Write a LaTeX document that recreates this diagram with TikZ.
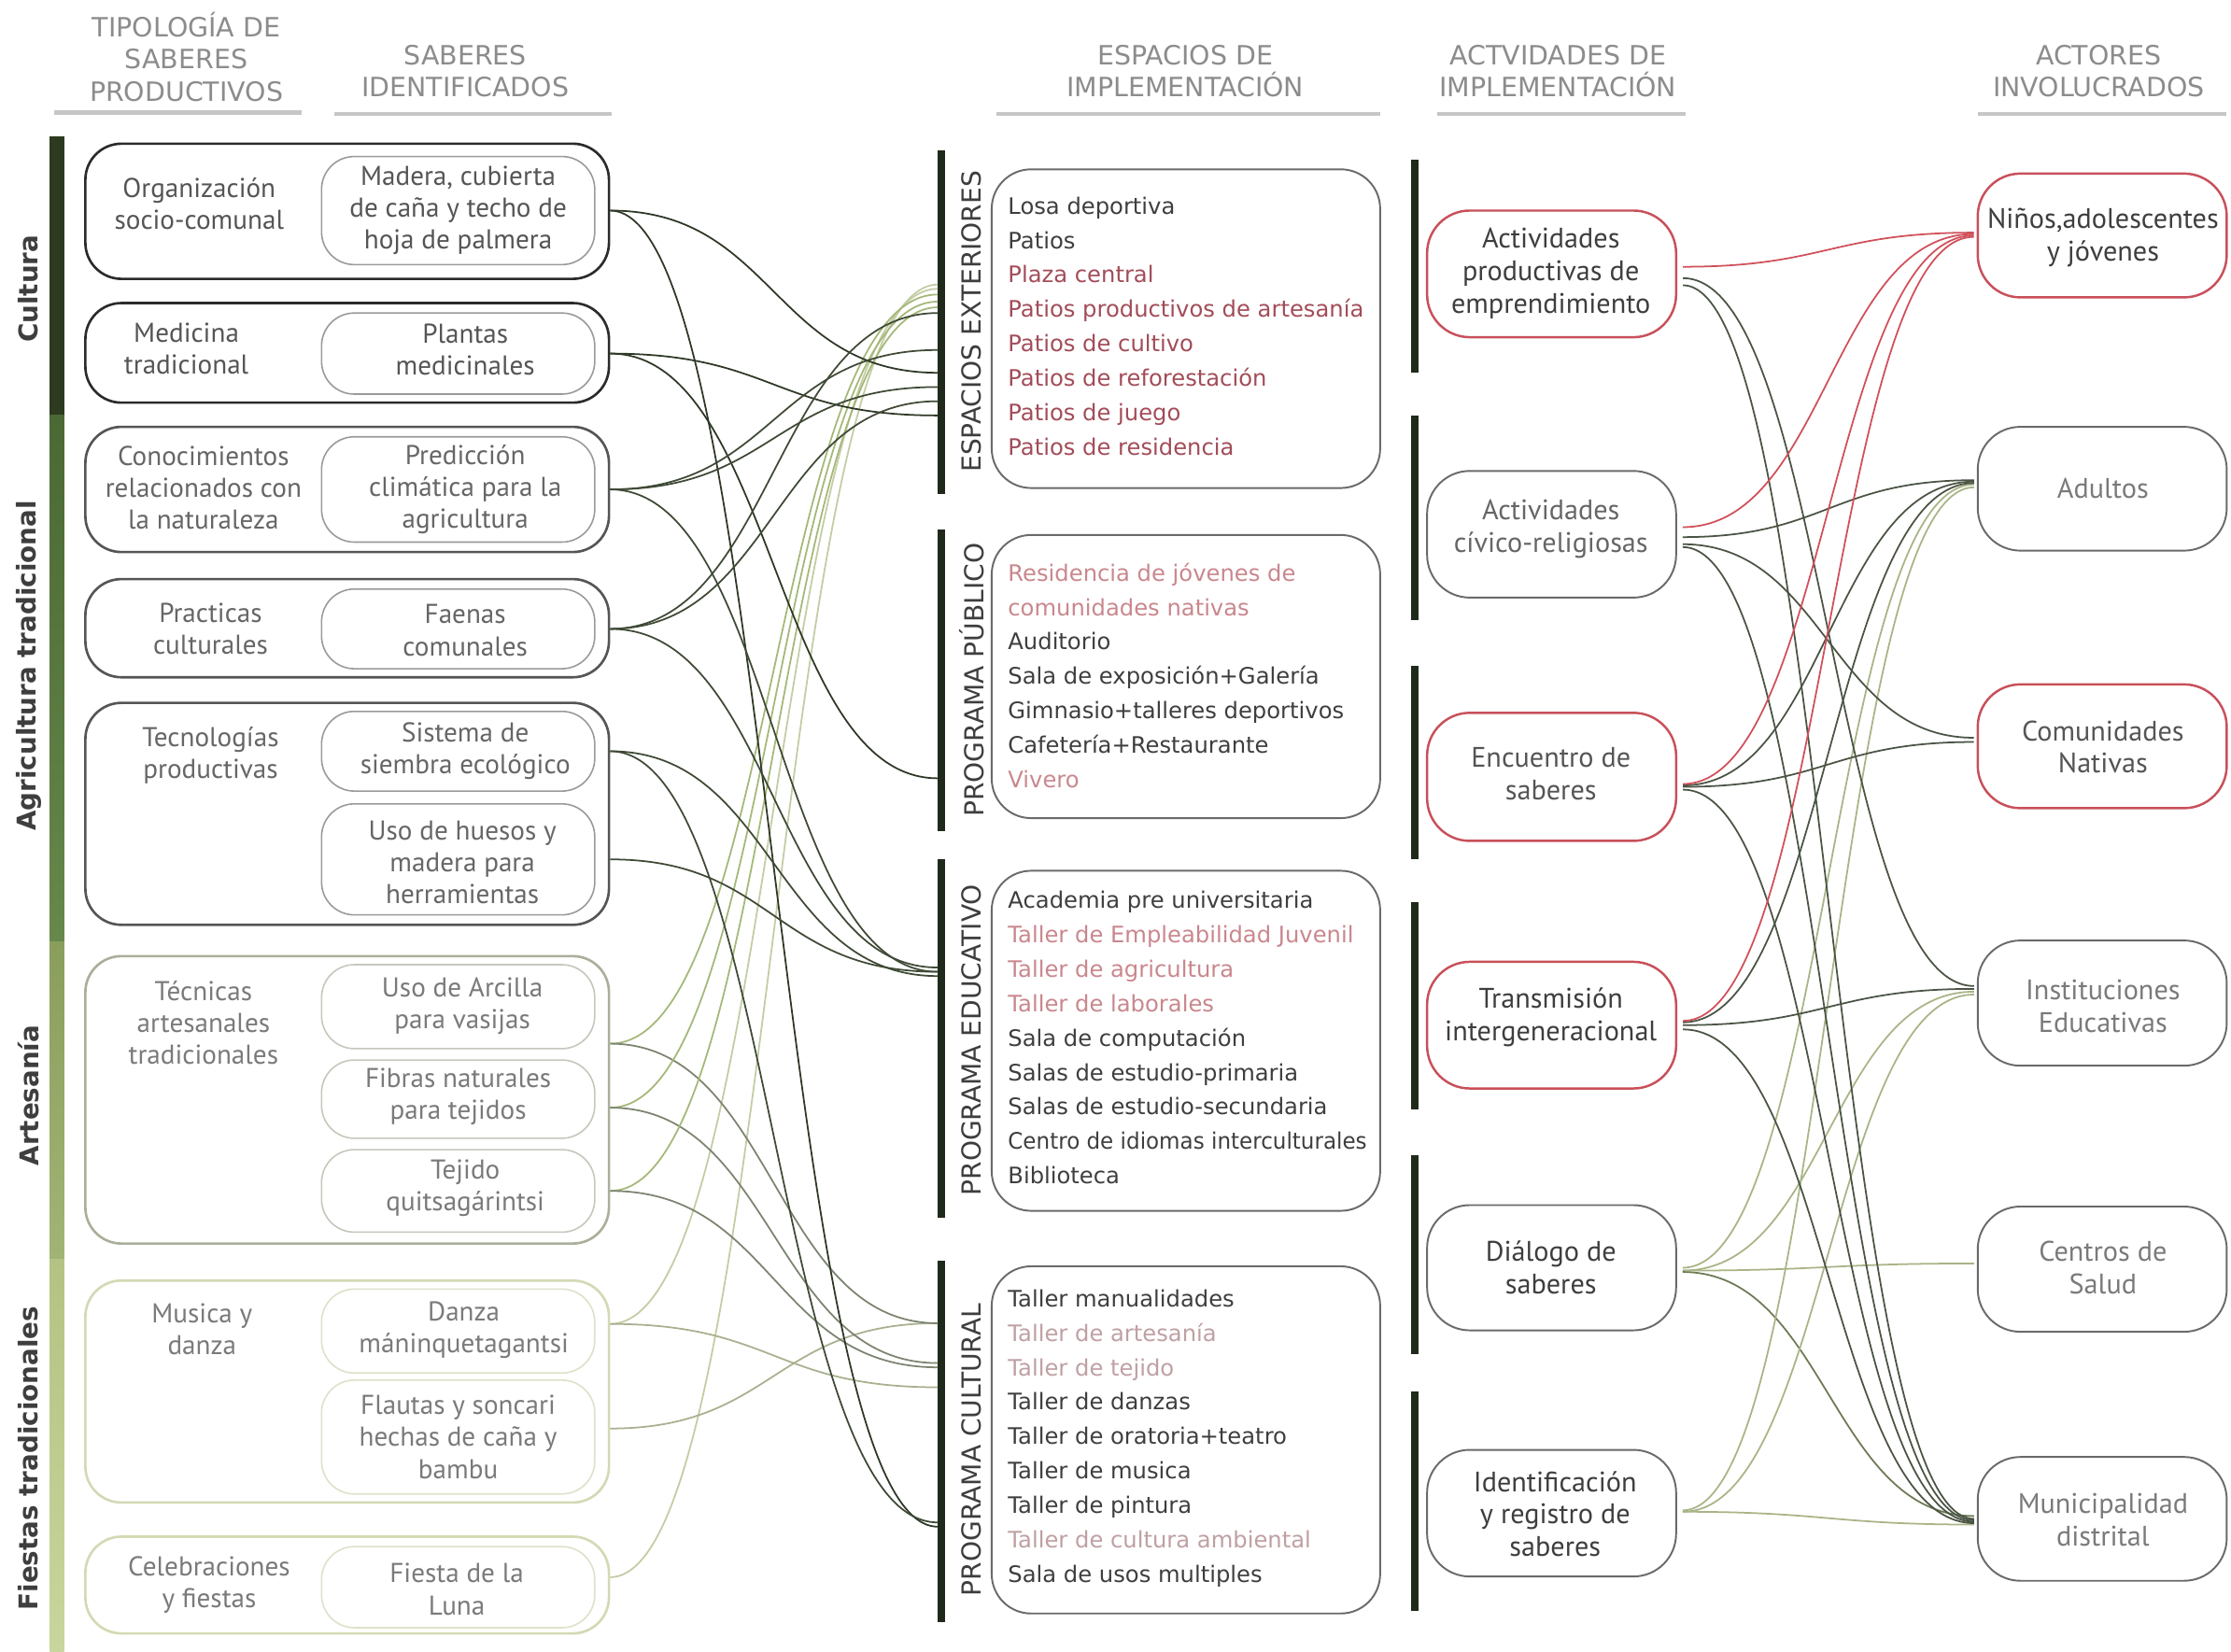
\documentclass[tikz,border=0pt]{standalone}
\usepackage{fontspec}
\setmainfont{PT Sans}
\newfontfamily\dvs{DejaVu Sans}
\usetikzlibrary{fit,calc}
\definecolor{hdrc}{HTML}{8C8C8C}
\definecolor{hlc}{HTML}{C6C6C6}
\definecolor{dk}{HTML}{3E3E3E}
\definecolor{tA}{HTML}{555555}
\definecolor{tB}{HTML}{666666}
\definecolor{tC}{HTML}{7A7A7A}
\definecolor{redA}{HTML}{A24C58}
\definecolor{redB}{HTML}{C9878D}
\definecolor{redC}{HTML}{BFA0A3}
\definecolor{boxred}{HTML}{C8505A}
\definecolor{boxgray}{HTML}{6A6A6A}
\definecolor{barc}{HTML}{1F2A1A}
\definecolor{cul}{HTML}{2E3A1F}
\definecolor{agrA}{HTML}{4A6934}
\definecolor{agrB}{HTML}{66884A}
\definecolor{artA}{HTML}{8A9E5C}
\definecolor{artB}{HTML}{A2B475}
\definecolor{fieA}{HTML}{B4C383}
\definecolor{fieB}{HTML}{C8D59C}
\definecolor{oC}{HTML}{2B2B2B}
\definecolor{oA}{HTML}{555555}
\definecolor{oR}{HTML}{A9B09A}
\definecolor{oF}{HTML}{D2DAB4}
\definecolor{iC}{HTML}{9A9A9A}
\definecolor{iR}{HTML}{C4C8BC}
\definecolor{iF}{HTML}{DCE2C8}
\definecolor{lnC}{HTML}{2E3826}
\definecolor{lnA}{HTML}{3F4A36}
\definecolor{lnG}{HTML}{A4B878}
\definecolor{lnM}{HTML}{7C8470}
\definecolor{lnL}{HTML}{C3CCA4}
\definecolor{lnL2}{HTML}{A9B08F}
\definecolor{rR}{HTML}{D0505A}
\definecolor{rD}{HTML}{4A5444}
\definecolor{rL}{HTML}{A9B486}
\definecolor{rM}{HTML}{6D7A55}
\tikzset{
 obox/.style={draw=#1, rounded corners=11pt, inner sep=0pt, line width=0.75pt},
 ibox/.style={draw=#1, rounded corners=10pt, inner sep=0pt, line width=0.45pt},
 ltxt/.style={align=center, inner sep=0pt, font=\fontsize{8.3}{9.7}\selectfont},
 hdr/.style={align=center, text=hdrc, inner sep=0pt, font=\dvs\fontsize{8.1}{9.9}\selectfont},
 hline/.style={draw=hlc, line width=1.3pt},
 lbox/.style={draw=boxgray, rounded corners=12pt, inner sep=0pt, line width=0.55pt},
 item/.style={anchor=base west, inner sep=0pt, font=\dvs\fontsize{6.9}{8}\selectfont},
 vbar/.style={fill=barc, inner sep=0pt},
 vlab/.style={rotate=90, text=dk, inner sep=0pt, font=\dvs\fontsize{8}{9}\selectfont},
 slab/.style={rotate=90, text=dk, inner sep=0pt, font=\dvs\bfseries\fontsize{7.9}{9}\selectfont},
 abox/.style={draw=#1, rounded corners=13pt, inner sep=0pt, line width=0.7pt},
 atxt/.style={align=center, inner sep=0pt, font=\fontsize{8.6}{9.9}\selectfont},
 conn/.style={line width=0.5pt},
}
\newcommand\litem[4]{\node[item,text=#3] (#1) at (708,#2) {#4};}
\newcommand\lconn[3]{\draw[conn,#1] (#2) .. controls +(115,0) and +(-115,0) .. (#3);}
\newcommand\rconn[3]{\draw[conn,#1] (#2) .. controls +(100,0) and +(-100,0) .. (#3);}
\begin{document}
\begin{tikzpicture}[x=0.015236cm, y=-0.015236cm]
\useasboundingbox (0,0) rectangle (1568,1161);
\fill[white] (0,0) rectangle (1568,1161);

% headers
\node[hdr] (h1) at (131,40) {TIPOLOGÍA DE\\SABERES\\PRODUCTIVOS};
\node[hdr] (h2) at (327,50) {SABERES\\IDENTIFICADOS};
\node[hdr] (h3) at (833,50) {ESPACIOS DE\\IMPLEMENTACIÓN};
\node[hdr] (h4) at (1095,50) {ACTVIDADES DE\\IMPLEMENTACIÓN};
\node[hdr] (h5) at (1475,50) {ACTORES\\INVOLUCRADOS};
\draw[hline] (38,79) -- (212,79);
\draw[hline] (235,80) -- (430,80);
\draw[hline] (700,80) -- (970,80);
\draw[hline] (1010,80) -- (1185,80);
\draw[hline] (1390,80) -- (1565,80);

% left colour bar
\fill[cul] (35,96) rectangle (45,292);
\shade[top color=agrA, bottom color=agrB] (35,292) rectangle (45,662);
\shade[top color=artA, bottom color=artB] (35,662) rectangle (45,885);
\shade[top color=fieA, bottom color=fieB] (35,885) rectangle (45,1161);
\node[slab] (gCul) at (20,203) {Cultura};
\node[slab] (gAgr) at (20,468) {Agricultura tradicional};
\node[slab] (gArt) at (20,770) {Artesanía};
\node[slab] (gFie) at (20,1025) {Fiestas tradicionales};

% left rows
\node[obox=oC, fit={(60,101)(428,196)}] (o1) {};
\node[ltxt, text=tA] (c1) at (140,143) {Organización\\socio-comunal};
\node[ibox=iC, fit={(226,110)(418,186)}] (s1) {};
\node[ltxt, text=tA] (s1t) at (s1) {Madera, cubierta\\de caña y techo de\\hoja de palmera};

\node[obox=oC, fit={(60,213)(428,283)}] (o2) {};
\node[ltxt, text=tA] (c2) at (131,245) {Medicina\\tradicional};
\node[ibox=iC, fit={(226,220)(418,277)}] (s2) {};
\node[ltxt, text=tA] (s2t) at (327,246) {Plantas\\medicinales};

\node[obox=oA, fit={(60,300)(428,388)}] (o3) {};
\node[ltxt, text=tB] (c3) at (143,343) {Conocimientos\\relacionados con\\la naturaleza};
\node[ibox=iC, fit={(226,307)(418,381)}] (s3) {};
\node[ltxt, text=tB] (s3t) at (327,344) {Predicción\\climática para la\\agricultura};

\node[obox=oA, fit={(60,407)(428,476)}] (o4) {};
\node[ltxt, text=tB] (c4) at (148,442) {Practicas\\culturales};
\node[ibox=iC, fit={(226,414)(418,470)}] (s4) {};
\node[ltxt, text=tB] (s4t) at (327,443) {Faenas\\comunales};

\node[obox=oA, fit={(60,494)(428,650)}] (o5) {};
\node[ltxt, text=tB] (c5) at (148,531) {Tecnologías\\productivas};
\node[ibox=iC, fit={(226,500)(418,556)}] (s5a) {};
\node[ltxt, text=tB] (s5at) at (327,528) {Sistema de\\siembra ecológico};
\node[ibox=iC, fit={(226,565)(418,643)}] (s5b) {};
\node[ltxt, text=tB] (s5bt) at (325,606) {Uso de huesos y\\madera para\\herramientas};

\node[obox=oR, fit={(60,672)(428,874)}] (o6) {};
\node[ltxt, text=tC] (c6) at (143,719) {Técnicas\\artesanales\\tradicionales};
\node[ibox=iR, fit={(226,678)(418,737)}] (s6a) {};
\node[ltxt, text=tC] (s6at) at (325,707) {Uso de Arcilla\\para vasijas};
\node[ibox=iR, fit={(226,745)(418,800)}] (s6b) {};
\node[ltxt, text=tC] (s6bt) at (322,771) {Fibras naturales\\para tejidos};
\node[ibox=iR, fit={(226,808)(418,866)}] (s6c) {};
\node[ltxt, text=tC] (s6ct) at (327,835) {Tejido\\quitsagárintsi};

\node[obox=oF, fit={(60,900)(428,1056)}] (o7) {};
\node[ltxt, text=tC] (c7) at (142,934) {Musica y\\danza};
\node[ibox=iF, fit={(226,906)(418,965)}] (s7a) {};
\node[ltxt, text=tC] (s7at) at (326,935) {Danza\\máninquetagantsi};
\node[ibox=iF, fit={(226,970)(418,1050)}] (s7b) {};
\node[ltxt, text=tC] (s7bt) at (322,1010) {Flautas y soncari\\hechas de caña y\\bambu};

\node[obox=oF, fit={(60,1080)(428,1148)}] (o8) {};
\node[ltxt, text=tC] (c8) at (147,1114) {Celebraciones\\y fiestas};
\node[ibox=iF, fit={(226,1087)(418,1144)}] (s8) {};
\node[ltxt, text=tC] (s8t) at (321,1117) {Fiesta de la\\Luna};

% middle bars and labels
\node[vbar, fit={(659,106)(664,347)}] (bE) {};
\node[vbar, fit={(659,372)(664,584)}] (bP) {};
\node[vbar, fit={(659,604)(664,856)}] (bD) {};
\node[vbar, fit={(659,886)(664,1140)}] (bC) {};
\node[vlab] (vE) at (683,226) {ESPACIOS EXTERIORES};
\node[vlab] (vP) at (683,478) {PROGRAMA PÚBLICO};
\node[vlab] (vD) at (683,731) {PROGRAMA EDUCATIVO};
\node[vlab] (vC) at (683,1019) {PROGRAMA CULTURAL};

% list boxes
\node[lbox, fit={(697,119)(970,343)}] (L1) {};
\node[lbox, fit={(697,376)(970,575)}] (L2) {};
\node[lbox, fit={(697,612)(970,851)}] (L3) {};
\node[lbox, fit={(697,890)(970,1134)}] (L4) {};

\litem{e1}{150.4}{dk}{Losa deportiva}
\litem{e2}{174.6}{dk}{Patios}
\litem{e3}{198.8}{redA}{Plaza central}
\litem{e4}{223.0}{redA}{Patios productivos de artesanía}
\litem{e5}{247.2}{redA}{Patios de cultivo}
\litem{e6}{271.4}{redA}{Patios de reforestación}
\litem{e7}{295.6}{redA}{Patios de juego}
\litem{e8}{319.8}{redA}{Patios de residencia}

\litem{p1}{408.4}{redB}{Residencia de jóvenes de}
\litem{p2}{432.6}{redB}{comunidades nativas}
\litem{p3}{456.8}{dk}{Auditorio}
\litem{p4}{481.0}{dk}{Sala de exposición+Galería}
\litem{p5}{505.2}{dk}{Gimnasio+talleres deportivos}
\litem{p6}{529.4}{dk}{Cafetería+Restaurante}
\litem{p7}{553.6}{redB}{Vivero}

\litem{d1}{638.4}{dk}{Academia pre universitaria}
\litem{d2}{662.6}{redB}{Taller de Empleabilidad Juvenil}
\litem{d3}{686.8}{redB}{Taller de agricultura}
\litem{d4}{711.0}{redB}{Taller de laborales}
\litem{d5}{735.2}{dk}{Sala de computación}
\litem{d6}{759.4}{dk}{Salas de estudio-primaria}
\litem{d7}{783.6}{dk}{Salas de estudio-secundaria}
\litem{d8}{807.8}{dk}{\scalebox{0.95}[1]{Centro de idiomas interculturales}}
\litem{d9}{832.0}{dk}{Biblioteca}

\litem{k1}{918.4}{dk}{Taller manualidades}
\litem{k2}{942.6}{redC}{Taller de artesanía}
\litem{k3}{966.8}{redC}{Taller de tejido}
\litem{k4}{991.0}{dk}{Taller de danzas}
\litem{k5}{1015.2}{dk}{Taller de oratoria+teatro}
\litem{k6}{1039.4}{dk}{Taller de musica}
\litem{k7}{1063.6}{dk}{Taller de pintura}
\litem{k8}{1087.8}{redC}{Taller de cultura ambiental}
\litem{k9}{1112.0}{dk}{Sala de usos multiples}

% activity bars
\node[vbar, fit={(992,112)(997,262)}] (ab1) {};
\node[vbar, fit={(992,292)(997,436)}] (ab2) {};
\node[vbar, fit={(992,468)(997,604)}] (ab3) {};
\node[vbar, fit={(992,634)(997,780)}] (ab4) {};
\node[vbar, fit={(992,812)(997,952)}] (ab5) {};
\node[vbar, fit={(992,978)(997,1132)}] (ab6) {};

% activity boxes
\node[abox=boxred, fit={(1003,148)(1178,237)}] (a1) {};
\node[atxt, text=dk] (a1t) at (1090,192) {Actividades\\productivas de\\emprendimiento};
\node[abox=boxgray, line width=0.55pt, fit={(1003,331)(1178,420)}] (a2) {};
\node[atxt, text=tB] (a2t) at (1090,372) {Actividades\\cívico-religiosas};
\node[abox=boxred, fit={(1003,501)(1178,591)}] (a3) {};
\node[atxt, text=tA] (a3t) at (1090,544) {Encuentro de\\saberes};
\node[abox=boxred, fit={(1003,676)(1178,765)}] (a4) {};
\node[atxt, text=dk] (a4t) at (1090,715) {Transmisión\\intergeneracional};
\node[abox=boxgray, line width=0.55pt, fit={(1003,847)(1178,935)}] (a5) {};
\node[atxt, text=dk] (a5t) at (1090,891) {Diálogo de\\saberes};
\node[abox=boxgray, line width=0.55pt, fit={(1003,1019)(1178,1108)}] (a6) {};
\node[atxt, text=dk] (a6t) at (1093,1064) {Identificación\\y registro de\\saberes};

% actor boxes
\node[abox=boxred, fit={(1390,122)(1565,209)}] (n1) {};
\node[atxt, text=dk] (n1t) at (1478,167) {Niños,adolescentes\\y jóvenes};
\node[abox=boxgray, line width=0.55pt, fit={(1390,300)(1565,387)}] (n2) {};
\node[atxt, text=tC] (n2t) at (1478,343) {Adultos};
\node[abox=boxred, fit={(1390,481)(1565,568)}] (n3) {};
\node[atxt, text=tA] (n3t) at (1478,525) {Comunidades\\Nativas};
\node[abox=boxgray, line width=0.55pt, fit={(1390,661)(1565,749)}] (n4) {};
\node[atxt, text=tC] (n4t) at (1478,707) {Instituciones\\Educativas};
\node[abox=boxgray, line width=0.55pt, fit={(1390,848)(1565,936)}] (n5) {};
\node[atxt, text=tC] (n5t) at (1478,891) {Centros de\\Salud};
\node[abox=boxgray, line width=0.55pt, fit={(1390,1024)(1565,1111)}] (n6) {};
\node[atxt, text=tC] (n6t) at (1478,1068) {Municipalidad\\distrital};

% left exits
\coordinate (xMad) at (o1.east|-s1);
\coordinate (xPla) at (o2.east|-s2);
\coordinate (xPre) at (o3.east|-s3);
\coordinate (xFae) at (o4.east|-s4);
\coordinate (xSis) at (o5.east|-s5a);
\coordinate (xHue) at (o5.east|-s5b);
\coordinate (xArc) at ($(o6.east|-s6a.south)+(0,-4)$);
\coordinate (xFib) at ($(o6.east|-s6b)+(0,6)$);
\coordinate (xTej) at (o6.east|-s6c);
\coordinate (xDan) at ($(o7.east|-s7a)+(0,-5)$);
\coordinate (xFla) at ($(o7.east|-s7b)+(0,-6)$);
\coordinate (xLun) at ($(o8.east|-s8)+(0,-7)$);
% bar targets
\coordinate (tE200) at (659,200);
\coordinate (tE203) at (659,203);
\coordinate (tE207) at (659,207);
\coordinate (tE212) at (659,212);
\coordinate (tE216) at (659,216);
\coordinate (tE220) at (659,220);
\coordinate (tE246) at (659,246);
\coordinate (tE262) at (659,262);
\coordinate (tE272) at (659,272);
\coordinate (tE282) at (659,282);
\coordinate (tE292) at (659,292);
\coordinate (tP547) at (659,547);
\coordinate (tD680) at (659,680);
\coordinate (tD683) at (659,683);
\coordinate (tD686) at (659,686);
\coordinate (tC930) at (659,930);
\coordinate (tC958) at (659,958);
\coordinate (tC960) at (659,961);
\coordinate (tC975) at (659,975);
\coordinate (tC1070) at (659,1070);
\coordinate (tC1073) at (659,1073);

% left connectors
\lconn{lnL}{xLun}{tE200}
\lconn{lnL}{xDan}{tE203}
\lconn{lnL2}{xDan}{tC975}
\lconn{lnL2}{xFla}{tC930}
\lconn{lnG}{xArc}{tE207}
\lconn{lnM}{xArc}{tC930}
\lconn{lnG}{xFib}{tE212}
\lconn{lnM}{xFib}{tC958}
\lconn{lnG}{xTej}{tE216}
\lconn{lnM}{xTej}{tC960}
\lconn{lnC}{xMad}{tE262}
\lconn{lnC}{xMad}{tC1073}
\lconn{lnC}{xPla}{tE292}
\lconn{lnC}{xPla}{tP547}
\lconn{lnA}{xPre}{tE246}
\lconn{lnA}{xPre}{tE272}
\lconn{lnA}{xPre}{tD683}
\lconn{lnA}{xFae}{tE220}
\lconn{lnA}{xFae}{tE282}
\lconn{lnA}{xFae}{tD680}
\lconn{lnA}{xSis}{tD686}
\lconn{lnA}{xSis}{tC1070}
\lconn{lnA}{xHue}{tD683}

% right connectors
\rconn{rL}{$(a5.east)+(4,0)$}{$(n2.west)+(-2,-3)$}
\rconn{rL}{$(a5.east)+(4,2)$}{$(n4.west)+(-2,-8)$}
\rconn{rL}{$(a5.east)+(4,2)$}{$(n5.west)+(-2,-4)$}
\rconn{rM}{$(a5.east)+(4,3)$}{$(n6.west)+(-2,-2)$}
\rconn{rL}{$(a6.east)+(4,-2)$}{$(n2.west)+(-2,-1)$}
\rconn{rL}{$(a6.east)+(4,-1)$}{$(n4.west)+(-2,-6)$}
\rconn{rL}{$(a6.east)+(4,-1)$}{$(n6.west)+(-2,4)$}
\rconn{rD}{$(a1.east)+(4,3)$}{$(n4.west)+(-2,-12)$}
\rconn{rD}{$(a1.east)+(4,8)$}{$(n6.west)+(-2,0)$}
\rconn{rD}{$(a2.east)+(4,2)$}{$(n2.west)+(-2,-6)$}
\rconn{rD}{$(a2.east)+(4,7)$}{$(n3.west)+(-2,-6)$}
\rconn{rD}{$(a2.east)+(4,9)$}{$(n6.west)+(-2,1)$}
\rconn{rD}{$(a3.east)+(4,6)$}{$(n2.west)+(-2,-5)$}
\rconn{rD}{$(a3.east)+(4,7)$}{$(n3.west)+(-2,-3)$}
\rconn{rD}{$(a3.east)+(4,9)$}{$(n6.west)+(-2,2)$}
\rconn{rD}{$(a4.east)+(4,-2)$}{$(n2.west)+(-2,-4)$}
\rconn{rD}{$(a4.east)+(4,0)$}{$(n4.west)+(-2,-10)$}
\rconn{rD}{$(a4.east)+(4,3)$}{$(n6.west)+(-2,3)$}
\rconn{rR}{$(a1.east)+(4,-5)$}{$(n1.west)+(-2,-2)$}
\rconn{rR}{$(a2.east)+(4,-5)$}{$(n1.west)+(-2,-1)$}
\rconn{rR}{$(a3.east)+(4,5)$}{$(n1.west)+(-2,0)$}
\rconn{rR}{$(a4.east)+(4,-3)$}{$(n1.west)+(-2,1)$}
\end{tikzpicture}
\end{document}
